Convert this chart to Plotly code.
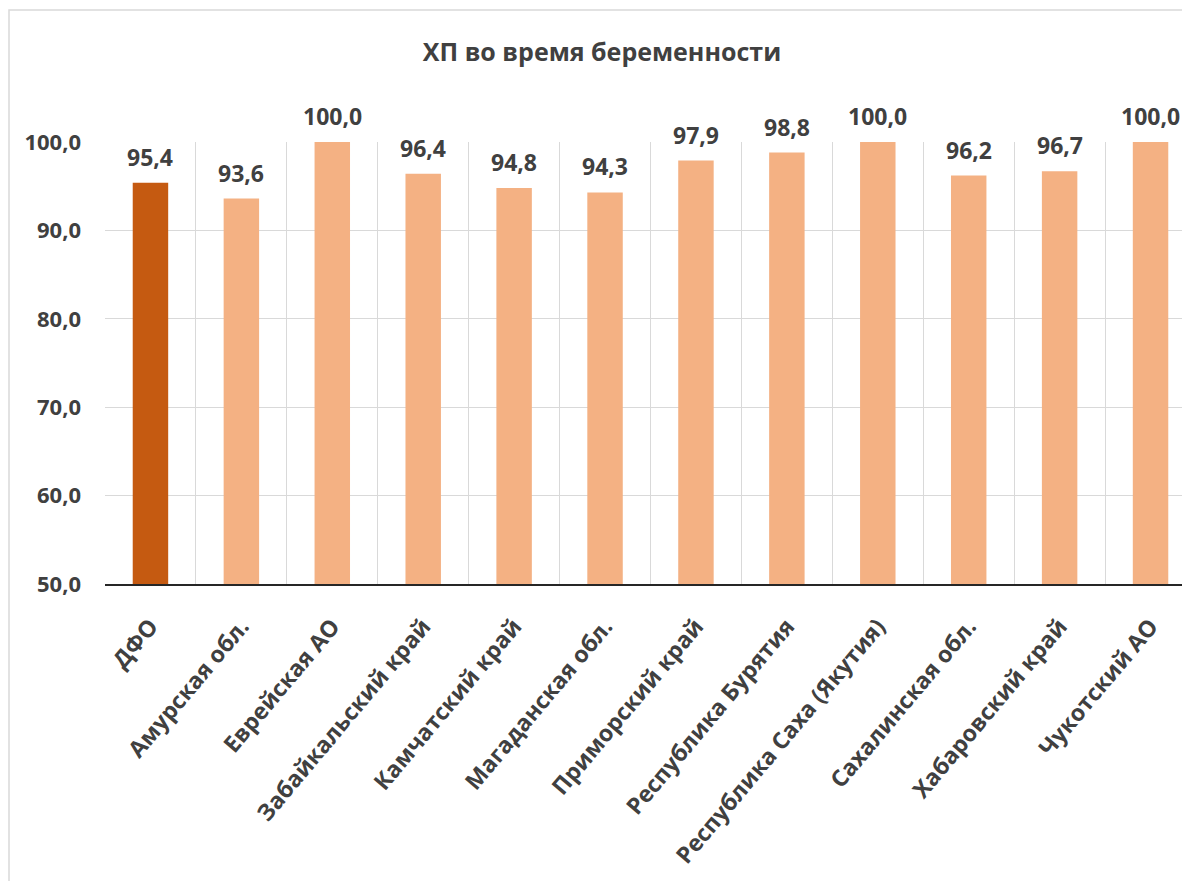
import plotly.graph_objects as go

categories = ["ДФО", "Амурская обл.", "Еврейская АО", "Забайкальский край", "Камчатский край",
              "Магаданская обл.", "Приморский край", "Республика Бурятия", "Республика Саха (Якутия)",
              "Сахалинская обл.", "Хабаровский край", "Чукотский АО"]
values = [95.4, 93.6, 100.0, 96.4, 94.8, 94.3, 97.9, 98.8, 100.0, 96.2, 96.7, 100.0]
title_text = "ХП во время беременности"
y_ticks = [50, 60, 70, 80, 90, 100]

colors = ["#C55A11"] + ["#F4B183"] * (len(categories) - 1)
xs = list(range(len(categories)))
FONT = "Open Sans"
TXT = "#404040"

# page body has an 8px default margin -> compensate
OFF = 8
W, H = 1190 - OFF, 881 - OFF
ml, mr, mt, mb = 105 - OFF, 0, 142 - OFF, 297

fig = go.Figure(go.Bar(
    x=xs, y=[v - 50 for v in values], base=50,
    marker=dict(color=colors, line=dict(width=0)),
    width=0.39,
    hoverinfo="skip",
))

for x, v in zip(xs, values):
    fig.add_annotation(x=x, y=v, xref="x", yref="y", text=f"{v:.1f}".replace(".", ","),
                       showarrow=False, yanchor="bottom", yshift=8,
                       font=dict(family=FONT, size=23, color=TXT, weight="bold"))

pw = W - ml - mr
ph = H - mt - mb
fig.add_shape(type="rect", xref="paper", yref="paper",
              x0=(1 - ml) / pw, x1=(W + 20 - ml) / pw,
              y0=-(mb + 20) / ph, y1=(H - (10 - OFF) - mb) / ph,
              line=dict(color="#d9d9d9", width=1.5), layer="below")

fig.update_layout(
    width=W, height=H,
    margin=dict(l=ml, r=mr, t=mt, b=mb),
    paper_bgcolor="white", plot_bgcolor="white",
    separators=", ",
    showlegend=False,
    title=dict(text=title_text, x=(602 - OFF) / W, xanchor="center", y=1 - (52 - OFF) / H, yanchor="middle",
               font=dict(family=FONT, size=25, color=TXT, weight="bold")),
    xaxis=dict(
        range=[-0.5, 11.5 - 6 / 91],
        tickmode="array", tickvals=xs, ticktext=categories,
        tickangle=-50,
        tickfont=dict(family=FONT, size=23, color=TXT, weight="bold"),
        showgrid=False, zeroline=False,
        showline=True, linecolor="#262626", linewidth=1.5,
        ticks="", ticklen=0, ticklabelstandoff=18,
        minor=dict(tickmode="array", tickvals=[i - 0.5 for i in range(len(categories) + 1)],
                   showgrid=True, gridcolor="#d9d9d9", gridwidth=1.2, ticks=""),
    ),
    yaxis=dict(
        range=[50, 100],
        tickmode="array", tickvals=y_ticks,
        tickformat=".1f",
        tickfont=dict(family=FONT, size=22, color=TXT, weight="bold"),
        showgrid=True, gridcolor="#d9d9d9", gridwidth=1.2,
        zeroline=False, showline=False, ticks="", ticklabelstandoff=23,
    ),
)

fig.write_html("out.html")
